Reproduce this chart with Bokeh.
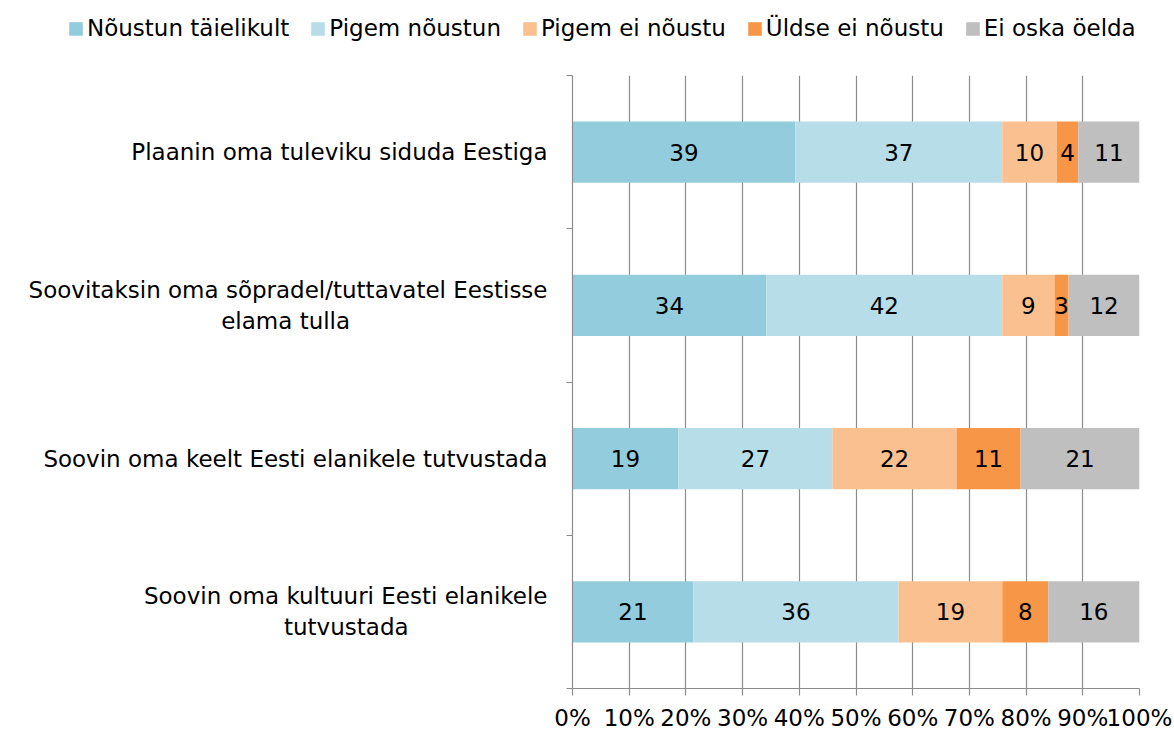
from bokeh.plotting import figure
from bokeh.models import Range1d, FixedTicker, Legend, LegendItem, ColumnDataSource
from bokeh.core.properties import value
from bokeh.embed import file_html
from bokeh.resources import INLINE

NB = "\u00a0"
categories = [
    "Plaanin oma tuleviku siduda Eestiga",
    "Soovitaksin oma sõpradel/tuttavatel Eestisse\nelama tulla" + NB * 27,
    "Soovin oma keelt Eesti elanikele tutvustada",
    "Soovin oma kultuuri Eesti elanikele\ntutvustada" + NB * 19,
]
series_names = ["Nõustun täielikult", "Pigem nõustun", "Pigem ei nõustu", "Üldse ei nõustu", "Ei oska öelda"]
colors = ["#93CDDD", "#B7DEE8", "#FAC090", "#F79646", "#BFBFBF"]

# bar shares (percent)
noustun_taielikult = [39.3, 34.2, 18.7, 21.3]
pigem_noustun = [36.5, 41.6, 27.2, 36.2]
pigem_ei_noustu = [9.6, 9.2, 21.9, 18.3]
uldse_ei_noustu = [3.8, 2.5, 11.3, 8.1]
ei_oska_oelda = [10.8, 12.5, 21.0, 16.1]

# data labels printed on the bars
lbl_noustun_taielikult = [39, 34, 19, 21]
lbl_pigem_noustun = [37, 42, 27, 36]
lbl_pigem_ei_noustu = [10, 9, 22, 19]
lbl_uldse_ei_noustu = [4, 3, 11, 8]
lbl_ei_oska_oelda = [11, 12, 21, 16]

x_ticks = [0, 10, 20, 30, 40, 50, 60, 70, 80, 90, 100]
x_tick_labels = ["0%", "10%", "20%", "30%", "40%", "50%", "60%", "70%", "80%", "90%", "100%"]

series = [noustun_taielikult, pigem_noustun, pigem_ei_noustu, uldse_ei_noustu, ei_oska_oelda]
labels = [lbl_noustun_taielikult, lbl_pigem_noustun, lbl_pigem_ei_noustu, lbl_uldse_ei_noustu, lbl_ei_oska_oelda]

n = len(categories)
ypos = [n - i - 0.5 for i in range(n)]
totals = [sum(s[i] for s in series) for i in range(n)]

FONT_NAME = "DejaVu Sans"
FONT = value(FONT_NAME)
FS = "23px"
GRID = "#8C8C8C"
LEG_H = 73

# ---- legend strip (separate root, shares the bar data sources) ----
lf = figure(width=1174, height=LEG_H, output_backend="svg", toolbar_location=None,
            x_range=Range1d(0, 100), y_range=Range1d(0, n),
            x_axis_location=None, y_axis_location=None,
            min_border=0, min_border_left=0, min_border_right=0, min_border_top=0, min_border_bottom=0)
lf.outline_line_color = None
lf.xgrid.grid_line_color = None
lf.ygrid.grid_line_color = None

# ---- main chart ----
p = figure(width=1174, height=733 - LEG_H, output_backend="svg", toolbar_location=None,
           x_range=Range1d(0, 100), y_range=Range1d(0, n),
           min_border_left=572, min_border_right=35, min_border_top=2, min_border_bottom=43)
p.outline_line_color = None
p.background_fill_color = "white"
p.border_fill_color = "white"

p.ygrid.grid_line_color = None
p.xgrid.ticker = FixedTicker(ticks=x_ticks)
p.xgrid.grid_line_color = GRID
p.xgrid.grid_line_width = 1.2

leg_items = []
left = [0.0] * n
for k, s in enumerate(series):
    pct = [s[i] / totals[i] * 100 for i in range(n)]
    right = [left[i] + pct[i] for i in range(n)]
    mid = [(left[i] + right[i]) / 2 for i in range(n)]
    src = ColumnDataSource(dict(y=ypos, left=list(left), right=right, mid=mid,
                                txt=[str(v) for v in labels[k]]))
    p.hbar(y="y", left="left", right="right", height=0.4, source=src,
           fill_color=colors[k], line_color=None)
    p.text(x="mid", y="y", text="txt", source=src, text_align="center", text_baseline="middle",
           text_font=FONT, text_font_size=FS, text_color="#000000")
    lr = lf.hbar(y="y", left="left", right="right", height=0.4, source=src,
                 fill_color=colors[k], line_color=None, visible=False)
    leg_items.append(LegendItem(label=series_names[k], renderers=[lr]))
    left = right

legend = Legend(items=leg_items, orientation="horizontal", location=(67, 32),
                glyph_width=17, glyph_height=17, label_standoff=3, spacing=20,
                padding=0, margin=0, border_line_color=None, background_fill_alpha=0,
                inactive_fill_alpha=0,
                label_text_font=FONT_NAME, label_text_font_size=FS,
                label_text_color="#000000")
lf.add_layout(legend, "center")

# x axis
xa = p.xaxis[0]
xa.ticker = FixedTicker(ticks=x_ticks)
xa.major_label_overrides = {t: l for t, l in zip(x_ticks, x_tick_labels)}
xa.axis_line_color = GRID
xa.axis_line_width = 1.2
xa.major_tick_line_color = GRID
xa.major_tick_line_width = 1.2
xa.major_tick_out = 7
xa.major_tick_in = 0
xa.minor_tick_line_color = None
xa.major_label_standoff = 9
xa.major_label_text_font = FONT_NAME
xa.major_label_text_font_size = FS
xa.major_label_text_color = "#000000"

# y axis
ya = p.yaxis[0]
ya.ticker = FixedTicker(ticks=ypos, minor_ticks=list(range(n + 1)))
ya.major_label_overrides = {y: c for y, c in zip(ypos, categories)}
ya.axis_line_color = GRID
ya.axis_line_width = 1.2
ya.major_tick_line_color = None
ya.major_tick_out = 0
ya.major_tick_in = 0
ya.minor_tick_line_color = GRID
ya.minor_tick_line_width = 1.2
ya.minor_tick_out = 6
ya.minor_tick_in = 0
ya.major_label_standoff = 19
ya.major_label_text_font = FONT_NAME
ya.major_label_text_font_size = FS
ya.major_label_text_color = "#000000"

open("out.html", "w").write(file_html([lf, p], INLINE))
